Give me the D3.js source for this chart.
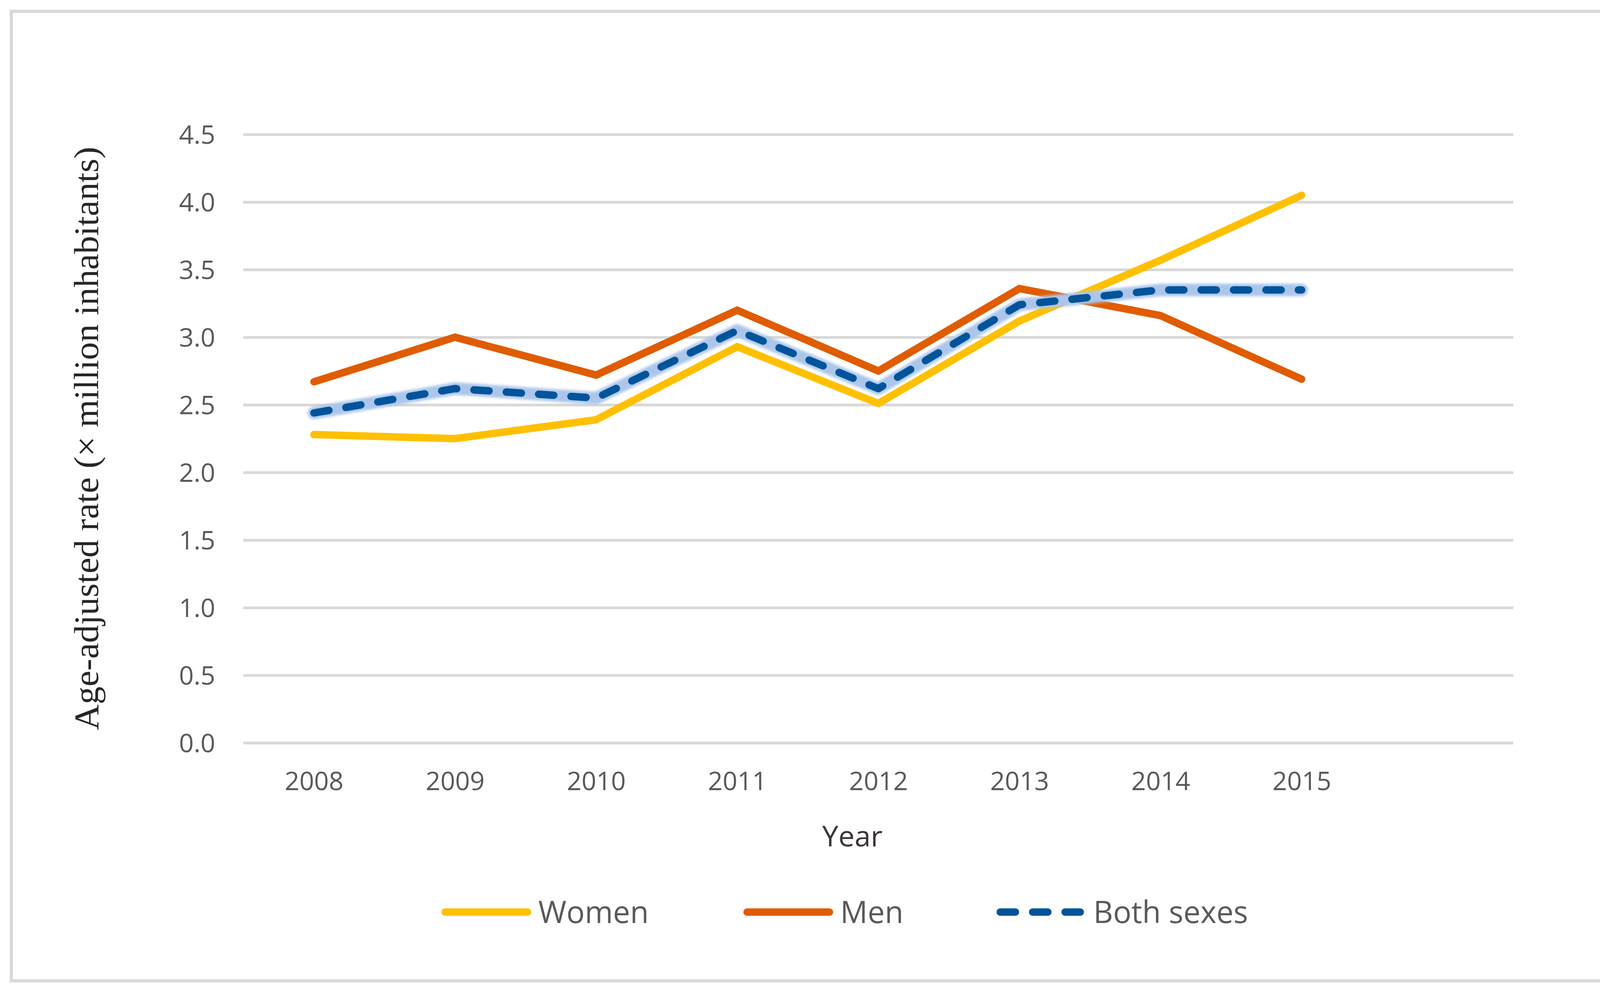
<!DOCTYPE html>
<html>
<head>
<meta charset="utf-8">
<script src="https://cdn.jsdelivr.net/npm/d3@7"></script>
<style>
  body { margin: 0; background: #fff; }
  svg { display: block; }
</style>
</head>
<body>
<div id="chart"></div>
<script>
// values
const years = ['2008', '2009', '2010', '2011', '2012', '2013', '2014', '2015', ''];
const women = [2.28, 2.25, 2.39, 2.93, 2.51, 3.12, 3.57, 4.05];
const men = [2.67, 3.00, 2.72, 3.20, 2.75, 3.36, 3.16, 2.69];
const both = [2.44, 2.62, 2.55, 3.05, 2.62, 3.24, 3.35, 3.35];
const yTicks = [0, 0.5, 1, 1.5, 2, 2.5, 3, 3.5, 4, 4.5];

const W = 4155, H = 2536;
const plotLeft = 623, plotRight = 3874, plotTop = 344, plotBottom = 1901;
const lineW = 19;

const svg = d3.select('#chart').append('svg')
    .attr('width', W)
    .attr('height', H);

const defs = svg.append('defs');
defs.append('filter')
    .attr('id', 'glow')
    .attr('x', '-10%').attr('y', '-10%')
    .attr('width', '120%').attr('height', '120%')
    .append('feGaussianBlur')
    .attr('stdDeviation', 3);

// outer frame
svg.append('rect')
    .attr('x', 29).attr('y', 29)
    .attr('width', 4125 - 29).attr('height', 2510 - 29)
    .attr('fill', 'none')
    .attr('stroke', '#d9d9d9')
    .attr('stroke-width', 8);

const x = d3.scalePoint()
    .domain(years)
    .range([plotLeft, plotRight])
    .padding(0.5);

const y = d3.scaleLinear()
    .domain([0, 4.5])
    .range([plotBottom, plotTop]);

// gridlines + y labels
const yAxis = svg.append('g')
    .attr('transform', `translate(${plotLeft},0)`)
    .call(d3.axisLeft(y)
        .tickValues(yTicks)
        .tickFormat(d3.format('.1f'))
        .tickSize(-(plotRight - plotLeft))
        .tickPadding(72));
yAxis.select('.domain').remove();
yAxis.selectAll('.tick line')
    .attr('stroke', '#d9d9d9')
    .attr('stroke-width', 7);
yAxis.selectAll('.tick text')
    .attr('fill', '#595959')
    .attr('font-family', 'Open Sans, sans-serif')
    .attr('font-size', 66)
    .attr('dy', '0.36em');

// x labels
const xAxis = svg.append('g')
    .attr('transform', `translate(0,${plotBottom})`)
    .call(d3.axisBottom(x).tickSize(0).tickPadding(0));
xAxis.select('.domain').remove();
xAxis.selectAll('.tick text')
    .attr('fill', '#595959')
    .attr('font-family', 'Open Sans, sans-serif')
    .attr('font-size', 66)
    .attr('dy', 0)
    .attr('y', 121);

// axis titles
svg.append('text')
    .attr('x', 2182).attr('y', 2166)
    .attr('text-anchor', 'middle')
    .attr('fill', '#3a3535')
    .attr('font-family', 'Open Sans, sans-serif')
    .attr('font-size', 74)
    .text('Year');

svg.append('text')
    .attr('transform', 'translate(251,1122) rotate(-90)')
    .attr('text-anchor', 'middle')
    .attr('fill', '#262626')
    .attr('font-family', 'Liberation Serif, serif')
    .attr('font-size', 88)
    .attr('textLength', 1493)
    .attr('lengthAdjust', 'spacingAndGlyphs')
    .text('Age-adjusted rate (× million inhabitants)');

const line = d3.line()
    .x((d, i) => x(years[i]))
    .y(d => y(d));

const plot = svg.append('g');

plot.append('path')
    .datum(women)
    .attr('d', line)
    .attr('fill', 'none')
    .attr('stroke', '#ffc000')
    .attr('stroke-width', lineW)
    .attr('stroke-linecap', 'round')
    .attr('stroke-linejoin', 'miter');

plot.append('path')
    .datum(men)
    .attr('d', line)
    .attr('fill', 'none')
    .attr('stroke', '#e05c00')
    .attr('stroke-width', lineW)
    .attr('stroke-linecap', 'round')
    .attr('stroke-linejoin', 'miter');

// glow behind the dashed series
plot.append('path')
    .datum(both)
    .attr('d', line)
    .attr('fill', 'none')
    .attr('stroke', '#abc6ea')
    .attr('stroke-width', 32)
    .attr('stroke-linecap', 'round')
    .attr('stroke-linejoin', 'round')
    .attr('filter', 'url(#glow)');

plot.append('path')
    .datum(both)
    .attr('d', line)
    .attr('fill', 'none')
    .attr('stroke', '#00549b')
    .attr('stroke-width', lineW)
    .attr('stroke-dasharray', '39,44')
    .attr('stroke-linecap', 'round')
    .attr('stroke-linejoin', 'round');

// legend
const legendItems = [
    { name: 'Women', color: '#ffc000', dash: null, x0: 1130 },
    { name: 'Men', color: '#e05c00', dash: null, x0: 1903 },
    { name: 'Both sexes', color: '#00549b', dash: '39,44', x0: 2551 }
];
const legendY = 2334;
const lg = svg.append('g')
    .selectAll('g')
    .data(legendItems)
    .enter()
    .append('g');

lg.append('line')
    .attr('x1', d => d.x0 + lineW / 2)
    .attr('x2', d => d.x0 + 230 - lineW / 2)
    .attr('y1', legendY)
    .attr('y2', legendY)
    .attr('stroke', d => d.color)
    .attr('stroke-width', lineW)
    .attr('stroke-linecap', 'round')
    .attr('stroke-dasharray', d => d.dash);

lg.append('text')
    .attr('x', d => d.x0 + 248)
    .attr('y', 2362)
    .attr('fill', '#595959')
    .attr('font-family', 'Open Sans, sans-serif')
    .attr('font-size', 78)
    .text(d => d.name);
</script>
</body>
</html>
